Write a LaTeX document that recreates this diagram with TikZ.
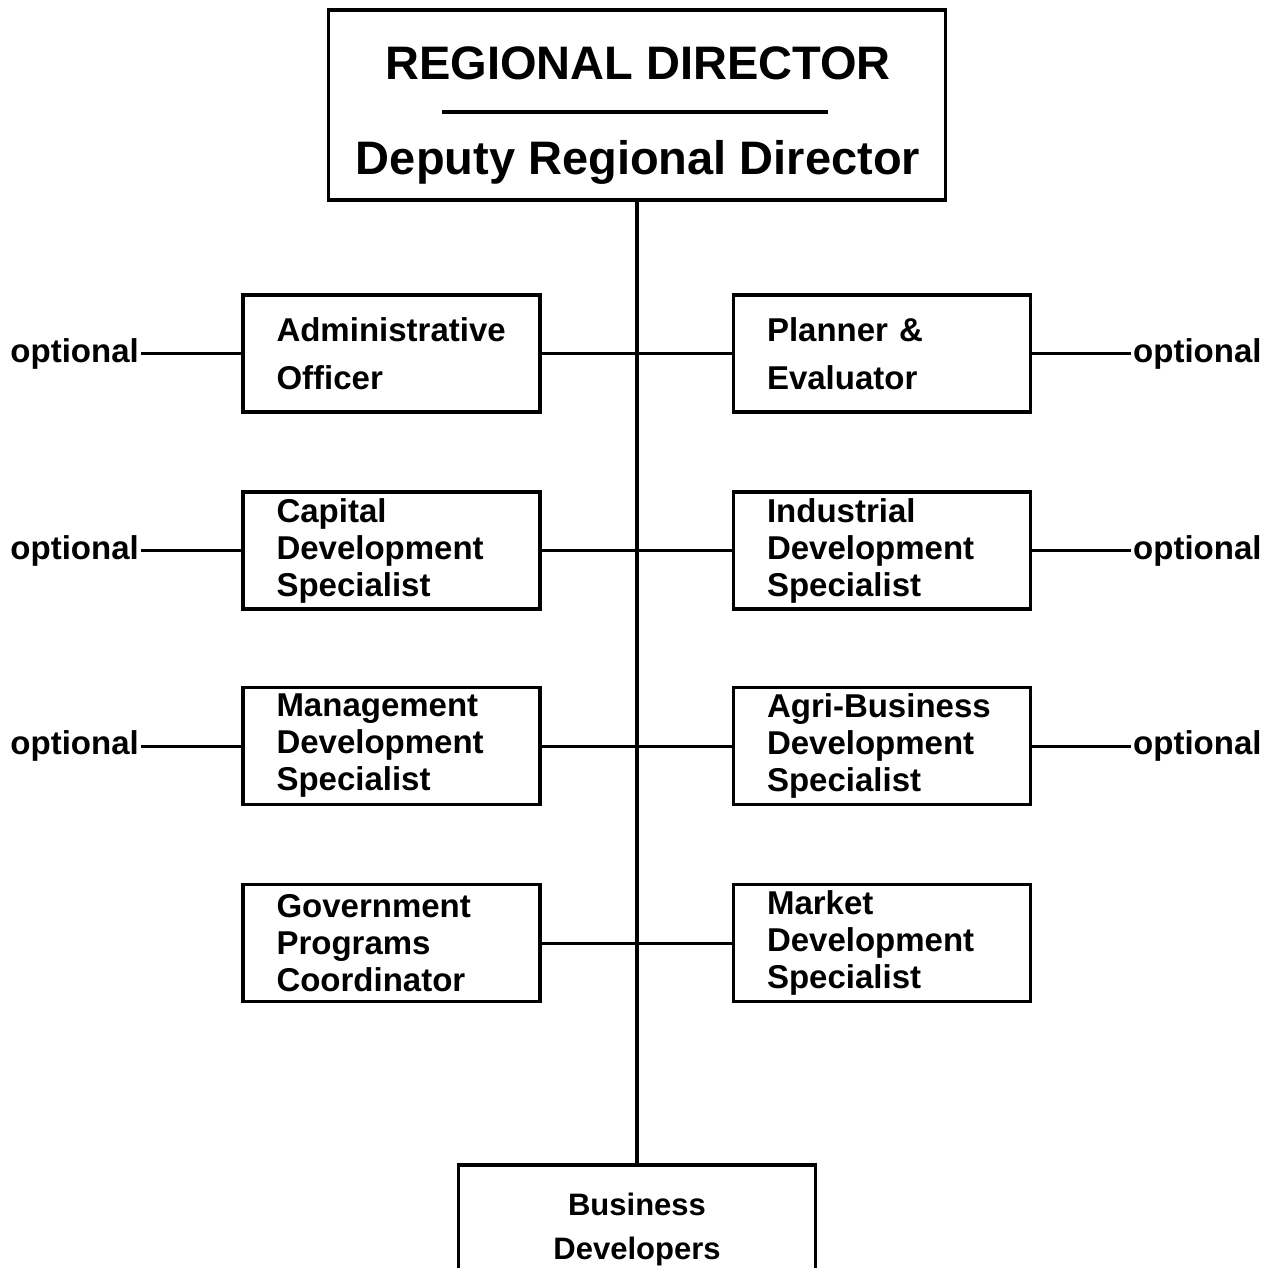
\documentclass[tikz,border=0pt]{standalone}
\usepackage{fontspec}
\setmainfont{Liberation Sans}
\begin{document}
\begin{tikzpicture}[x=1pt,y=-1pt,
  post/.style={draw,line width=3.5pt,minimum width=297pt,minimum height=117pt,text width=230pt,inner xsep=0pt,align=left,font=\fontsize{33pt}{37pt}\selectfont\bfseries},
  head/.style={anchor=base,inner sep=0pt,font=\fontsize{47pt}{50pt}\selectfont\bfseries},
  opt/.style={inner sep=2pt,font=\fontsize{33pt}{37pt}\selectfont\bfseries},
  link/.style={line width=3pt}]
\useasboundingbox (0,0) rectangle (1267,1268);
\node[draw,line width=3.5pt,minimum width=617pt,minimum height=190pt] (director) at (637,105) {};
\node[head] (title) at (638,80) {REGIONAL DIRECTOR};
\node[head] (deputy) at (638,175) {Deputy Regional Director};
\draw[line width=3.5pt] (442,112) -- (828,112);
\node[post] (admin) at (391.5,353.5) {Administrative\\[11pt]Officer};
\node[post] (capital) at (391.5,550.5) {Capital\\Development\\Specialist};
\node[post] (mgmt) at (391.5,746) {Management\\Development\\Specialist};
\node[post] (govt) at (391.5,943) {Government\\Programs\\Coordinator};
\node[post] (planner) at (882,353.5) {Planner \&\\[11pt]Evaluator};
\node[post] (indus) at (882,550.5) {Industrial\\Development\\Specialist};
\node[post] (agri) at (882,746) {Agri-Business\\Development\\Specialist};
\node[post] (market) at (882,943) {Market\\Development\\Specialist};
\node[draw,line width=3.5pt,anchor=north,minimum width=357pt,inner ysep=28pt,align=center,font=\fontsize{31pt}{44pt}\selectfont\bfseries] (busdev) at (637,1163) {Business\\Developers};
\draw[line width=4.5pt] (director.south) -- (busdev.north);
\draw[link] (admin) -- (planner);
\draw[link] (capital) -- (indus);
\draw[link] (mgmt) -- (agri);
\draw[link] (govt) -- (market);
\node[opt,anchor=east] (optAdmin) at (141,353.5) {optional};
\node[opt,anchor=east] (optCapital) at (141,550.5) {optional};
\node[opt,anchor=east] (optMgmt) at (141,746) {optional};
\node[opt,anchor=west] (optPlanner) at (1131,353.5) {optional};
\node[opt,anchor=west] (optIndus) at (1131,550.5) {optional};
\node[opt,anchor=west] (optAgri) at (1131,746) {optional};
\draw[link] (optAdmin) -- (admin);
\draw[link] (optCapital) -- (capital);
\draw[link] (optMgmt) -- (mgmt);
\draw[link] (planner) -- (optPlanner);
\draw[link] (indus) -- (optIndus);
\draw[link] (agri) -- (optAgri);
\end{tikzpicture}
\end{document}
